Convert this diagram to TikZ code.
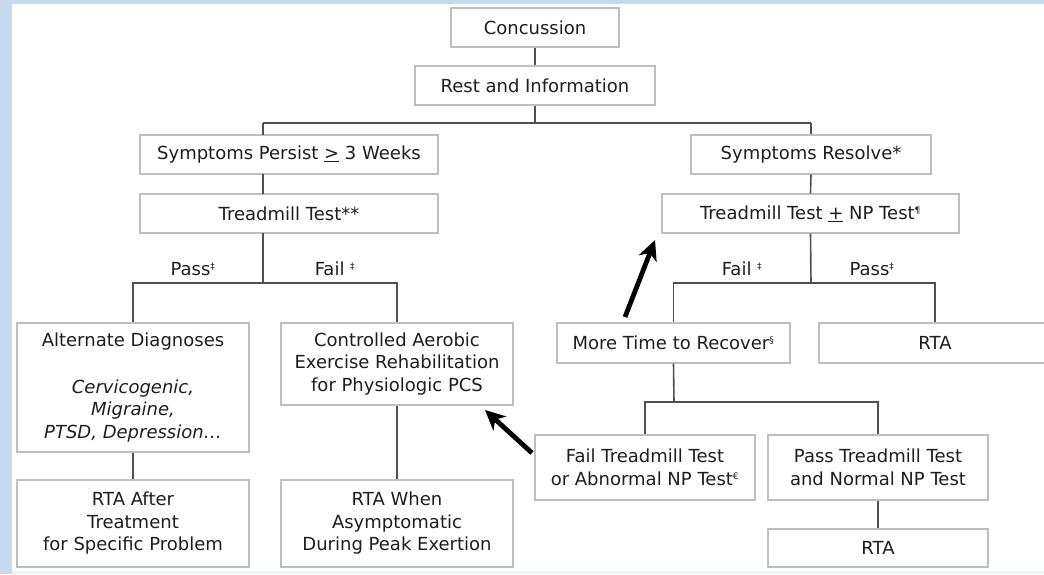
\documentclass[tikz,border=0pt]{standalone}
\usepackage{fontspec}
\setmainfont{DejaVu Sans}
\usetikzlibrary{arrows.meta}
\definecolor{bgblue}{HTML}{C6D9EF}
\definecolor{paleblue}{HTML}{EEF3FA}
\definecolor{boxline}{HTML}{BEBEBE}
\definecolor{conline}{HTML}{505050}
\definecolor{txt}{HTML}{1E1E1E}
\newcommand\sups[1]{\textsuperscript{\fontsize{9}{9}\selectfont #1}}
\begin{document}
\begin{tikzpicture}[x=1pt,y=-1pt,
  box/.style={draw=boxline, line width=1.3pt, fill=white, inner sep=0pt, align=center, text=txt,
              font=\fontsize{18}{22.5}\selectfont},
  conn/.style={draw=conline, line width=1.6pt},
  lbl/.style={text=txt, inner sep=0pt, font=\fontsize{18}{22.5}\selectfont},
  bigarrow/.style={line width=4.8pt, draw=black, -{Stealth[length=20pt,width=19pt,inset=6pt]}}]
\clip (0,0) rectangle (1044,574);
\fill[bgblue] (0,0) rectangle (1044,574);
\fill[white] (12,4) rectangle (1044,571);
\fill[paleblue] (12,571) rectangle (1044,574);

% boxes
\node[box, minimum width=168, minimum height=39] (conc) at (535,27.5) {Concussion};
\node[box, minimum width=240, minimum height=39] (rest) at (535,85.5) {Rest and Information};
\node[box, minimum width=298, minimum height=39] (persist) at (289,154.5) {Symptoms Persist \underline{>} 3 Weeks};
\node[box, minimum width=298, minimum height=39] (tread1) at (289,213.5) {Treadmill Test**};
\node[box, minimum width=240, minimum height=39] (resolve) at (811,154.5) {Symptoms Resolve*};
\node[box, minimum width=297, minimum height=39] (tread2) at (810.5,213.5) {Treadmill Test \underline{+} NP Test\sups{¶}};
\node[box, minimum width=232, minimum height=129] (alt) at (133,387.5)
  {Alternate Diagnoses\\[24pt]\textit{Cervicogenic,}\\\textit{Migraine,}\\\textit{PTSD, Depression…}};
\node[box, minimum width=232, minimum height=82] (cae) at (397,364)
  {Controlled Aerobic\\Exercise Rehabilitation\\for Physiologic PCS};
\node[box, minimum width=232, minimum height=87] (rtaafter) at (133,523.5)
  {RTA After\\Treatment\\for Specific Problem};
\node[box, minimum width=232, minimum height=87] (rtawhen) at (397,523.5)
  {RTA When\\Asymptomatic\\During Peak Exertion};
\node[box, minimum width=233, minimum height=40] (more) at (673.5,343) {More Time to Recover\sups{§}};
\node[box, minimum width=232, minimum height=40] (rta1) at (935,343) {RTA};
\node[box, minimum width=220, minimum height=65] (failtm) at (645,467.5)
  {Fail Treadmill Test\\or Abnormal NP Test\sups{€}};
\node[box, minimum width=220, minimum height=65] (passtm) at (878,467.5)
  {Pass Treadmill Test\\and Normal NP Test};
\node[box, minimum width=220, minimum height=38] (rta2) at (878,548) {RTA};

% junction coordinates
\coordinate (j1) at (535,123);
\coordinate (jL) at (263,123);
\coordinate (jR) at (811,123);
\coordinate (pt) at (263,135);
\coordinate (pb) at (263,174);
\coordinate (tt) at (263,194);
\coordinate (tb) at (263,233);
\coordinate (j2) at (263,283);
\coordinate (j3) at (811,283);
\coordinate (j4) at (674,402);

% connectors
\draw[conn] (conc.south) -- (rest.north);
\draw[conn] (rest.south) -- (j1);
\draw[conn] (jL) -- (jR);
\draw[conn] (jL) -- (pt);
\draw[conn] (pb) -- (tt);
\draw[conn] (tb) -- (j2);
\draw[conn] (jR) -- (resolve.north);
\draw[conn] (resolve.south) -- (tread2.north);
\draw[conn] (alt.north) |- (j2) -| (cae.north);
\draw[conn] (tread2.south) -- (j3);
\draw[conn] (more.north) |- (j3) -| (rta1.north);
\draw[conn] (alt.south) -- (rtaafter.north);
\draw[conn] (cae.south) -- (rtawhen.north);
\draw[conn] (more.south) -- (j4);
\draw[conn] (failtm.north) |- (j4) -| (passtm.north);
\draw[conn] (passtm.south) -- (rta2.north);

% labels
\node[lbl] (pass1) at (193,269) {Pass\sups{‡}};
\node[lbl] (fail1) at (335,269) {Fail \sups{‡}};
\node[lbl] (fail2) at (742,269) {Fail \sups{‡}};
\node[lbl] (pass2) at (872,269) {Pass\sups{‡}};

% big arrows
\coordinate (a1s) at (625,317);
\coordinate (a1e) at (655,240);
\coordinate (a2s) at (532,453);
\coordinate (a2e) at (485,410);
\draw[bigarrow] (a1s) -- (a1e);
\draw[bigarrow] (a2s) -- (a2e);
\end{tikzpicture}
\end{document}
